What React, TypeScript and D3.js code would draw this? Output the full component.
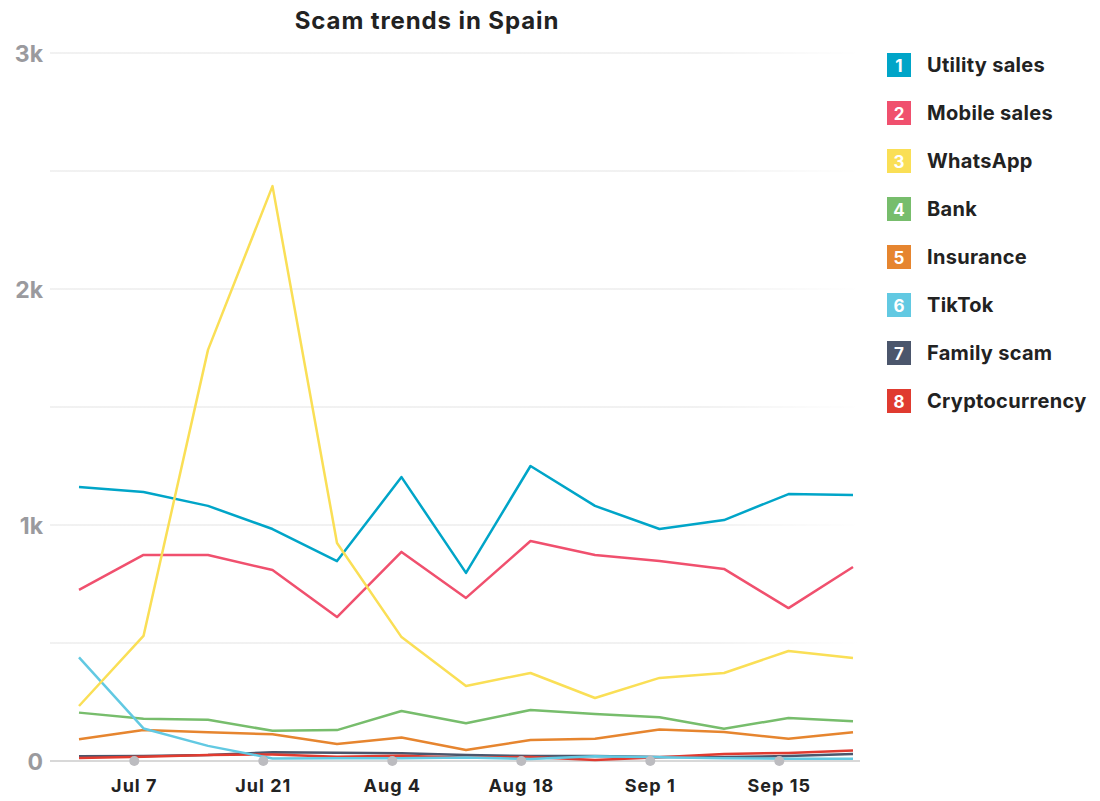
import React from "react";
import * as d3 from "d3";

const dates = ["2024-07-01","2024-07-08","2024-07-15","2024-07-22","2024-07-29","2024-08-05","2024-08-12","2024-08-19","2024-08-26","2024-09-02","2024-09-09","2024-09-16","2024-09-23"];
const seriesNames = ["Utility sales","Mobile sales","WhatsApp","Bank","Insurance","TikTok","Family scam","Cryptocurrency"];
const seriesColors = ["#00a5c8","#f0506e","#fadf56","#77bd6c","#e6852f","#62c9e2","#4b566c","#e03b30"];
const utility = [1161,1140,1081,983,847,1203,797,1250,1081,983,1021,1131,1127];
const mobile = [725,873,873,809,610,886,691,932,873,847,814,648,822];
const whatsapp = [233,530,1742,2436,924,525,318,373,267,352,373,466,436];
const bank = [205,179,175,128,131,212,160,216,199,185,137,182,168];
const insurance = [92,131,122,113,72,100,47,89,94,133,123,94,122];
const tiktok = [439,138,64,11,12,12,15,8,20,16,12,10,10];
const family = [20,21,25,37,35,33,25,21,21,17,17,21,30];
const crypto = [13,18,25,28,18,22,14,17,4,16,30,34,44];
const seriesValues = [utility, mobile, whatsapp, bank, insurance, tiktok, family, crypto];
const yTicks = [0, 1000, 2000, 3000];
const yTickLabels = ["0", "1k", "2k", "3k"];
const gridValues = [0, 500, 1000, 1500, 2000, 2500, 3000];
const xTicks = ["2024-07-07","2024-07-21","2024-08-04","2024-08-18","2024-09-01","2024-09-15"];
const xTickLabels = ["Jul 7","Jul 21","Aug 4","Aug 18","Sep 1","Sep 15"];

const FONT = "Inter, 'Noto Sans', sans-serif";

export default function App() {
  const W = 1100, H = 801;
  const parse = d3.utcParse("%Y-%m-%d");
  const x = d3.scaleUtc().domain([parse(dates[0])!, parse(dates[dates.length - 1])!]).range([79, 853]);
  const y = d3.scaleLinear().domain([0, 3000]).range([761, 53]);
  const line = d3.line<[Date, number]>().x(d => x(d[0])).y(d => y(d[1]));
  const order = [6, 7, 4, 3, 5, 1, 0, 2];
  return (
    <svg width={W} height={H} style={{ position: "absolute", left: 0, top: 0, background: "#fff" }}>
      <defs>
        <linearGradient id="gridfade" x1="0" x2="1" y1="0" y2="0">
          <stop offset="0" stopColor="#e4e4e4" />
          <stop offset="0.8" stopColor="#e4e4e4" />
          <stop offset="1" stopColor="#ffffff" />
        </linearGradient>
      </defs>
      <text x={427} y={29} textAnchor="middle" fontFamily={FONT} fontWeight={700} fontSize={24} letterSpacing={0.9} fill="#222">Scam trends in Spain</text>
      {gridValues.filter(v => v !== 0).map(v => (
        <rect key={v} x={50} y={y(v) - 0.5} width={810} height={1} fill="url(#gridfade)" />
      ))}
      <line x1={50} x2={860} y1={y(0)} y2={y(0)} stroke="#d8d8d8" strokeWidth={2} />
      {yTicks.map((v, i) => (
        <text key={v} x={43} y={y(v) + 9} textAnchor="end" fontFamily={FONT} fontWeight={700} fontSize={23} fill="#9a9a9e">{yTickLabels[i]}</text>
      ))}
      {order.map(i => (
        <path key={i} d={line(dates.map((d, j) => [parse(d)!, seriesValues[i][j]] as [Date, number])) || ""} fill="none" stroke={seriesColors[i]} strokeWidth={2.5} strokeLinejoin="round" />
      ))}
      {xTicks.map((t, i) => (
        <g key={t}>
          <circle cx={x(parse(t)!)} cy={y(0)} r={5} fill="#bcbcc0" />
          <text x={x(parse(t)!)} y={792} textAnchor="middle" fontFamily={FONT} fontWeight={700} fontSize={18} letterSpacing={1} fill="#222">{xTickLabels[i]}</text>
        </g>
      ))}
      {seriesNames.map((n, i) => (
        <g key={n} transform={`translate(887, ${53 + i * 48})`}>
          <rect width={24} height={24} fill={seriesColors[i]} />
          <text x={12} y={19} textAnchor="middle" fontFamily={FONT} fontWeight={700} fontSize={17} fill="#fff">{i + 1}</text>
          <text x={40} y={19} fontFamily={FONT} fontWeight={700} fontSize={20} letterSpacing={0.3} fill="#222">{n}</text>
        </g>
      ))}
    </svg>
  );
}
